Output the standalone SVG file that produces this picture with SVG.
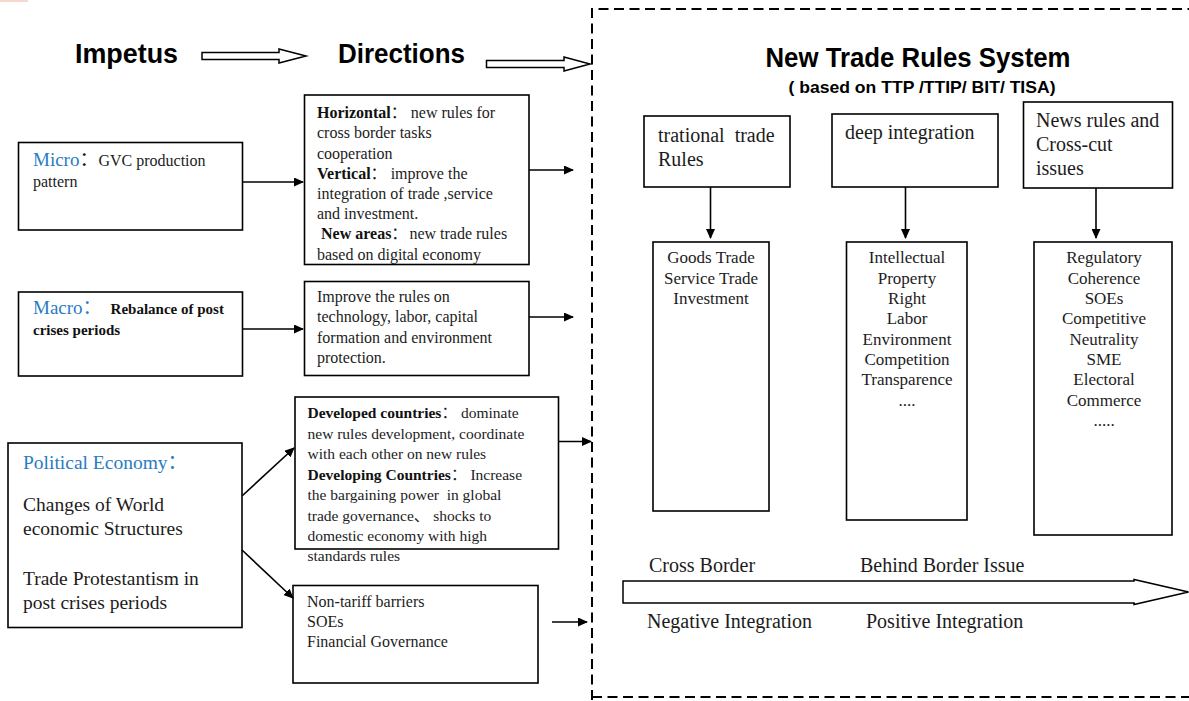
<svg xmlns="http://www.w3.org/2000/svg" width="1189" height="701" viewBox="0 0 1189 701">
  <style>
    .box { fill: #ffffff; stroke: #000000; stroke-width: 1.6; }
    .link { fill: none; stroke: #000000; stroke-width: 1.6; }
    .hollow { fill: #ffffff; stroke: #000000; stroke-width: 1.5; stroke-linejoin: miter; }
    .frame { fill: none; stroke: #000000; stroke-width: 2; stroke-dasharray: 10 5.5; }
    .head { font-family: "Liberation Sans", Arial, sans-serif; font-weight: bold; fill: #000000; }
    .txt { font-family: "Liberation Serif", "Noto Sans CJK SC", serif; fill: #1c1c1c; }
    .f15 { font-size: 15.5px; }
    .f16 { font-size: 16px; }
    .f17 { font-size: 17px; }
    .f19 { font-size: 19.5px; }
    .f20 { font-size: 20px; }
    .b { font-weight: bold; fill: #111111; }
    .blue { fill: #2a7bc2; }
    .mid { text-anchor: middle; }
  </style>
  <defs>
    <marker id="arrow" markerUnits="userSpaceOnUse" markerWidth="10" markerHeight="9" refX="9" refY="4.5" orient="auto">
      <path d="M0,0 L10,4.5 L0,9 Z" fill="#000000"/>
    </marker>
  </defs>

  <rect x="0" y="0" width="28" height="2" fill="#f6d9cc"/>

  <!-- column headings -->
  <g id="heading-impetus">
    <text class="head" x="75" y="63" font-size="27" textLength="103" lengthAdjust="spacingAndGlyphs">Impetus</text>
  </g>
  <g id="heading-directions">
    <text class="head" x="338" y="63" font-size="27" textLength="127" lengthAdjust="spacingAndGlyphs">Directions</text>
  </g>

  <!-- right-hand frame -->
  <g id="frame">
    <path class="frame" d="M592,700 L592,9 L1195,9"/>
    <path class="frame" d="M592,697 L1195,697" stroke="#333333"/>
  </g>

  <g id="title">
    <text class="head mid" x="918" y="67" font-size="27" textLength="305" lengthAdjust="spacingAndGlyphs">New Trade Rules System</text>
    <text class="head mid" x="922" y="93" font-size="17" textLength="267" lengthAdjust="spacingAndGlyphs">( based on TTP /TTIP/ BIT/ TISA)</text>
  </g>

  <!-- impetus nodes -->
  <g id="node-micro">
    <rect class="box" x="18.5" y="142.5" width="224" height="87.5"/>
    <text class="txt f16" x="33" y="166"><tspan class="blue" font-size="19">Micro</tspan><tspan font-size="19">：</tspan><tspan>GVC production</tspan></text>
    <text class="txt f16" x="33" y="187">pattern</text>
  </g>
  <g id="node-macro">
    <rect class="box" x="18.5" y="292" width="224" height="84"/>
    <text class="txt f16" x="33" y="314"><tspan class="blue" font-size="19">Macro：</tspan><tspan class="b" dx="9" font-size="15">Rebalance of post</tspan></text>
    <text class="txt b" x="33" y="335" style="font-size:15px">crises periods</text>
  </g>
  <g id="node-political">
    <rect class="box" x="8" y="443" width="234" height="184.5"/>
    <text class="txt f19 blue" x="23" y="469">Political Economy：</text>
    <text class="txt f19" x="23" y="511">Changes of World</text>
    <text class="txt f19" x="23" y="535">economic Structures</text>
    <text class="txt f19" x="23" y="585">Trade Protestantism in</text>
    <text class="txt f19" x="23" y="609">post crises periods</text>
  </g>

  <!-- direction nodes -->
  <g id="node-horizontal">
    <rect class="box" x="304.5" y="95" width="224.5" height="169.5"/>
    <text class="txt f16" x="317" y="118"><tspan class="b">Horizontal</tspan>：<tspan dx="4">new rules for</tspan></text>
    <text class="txt f16" x="317" y="138">cross border tasks</text>
    <text class="txt f16" x="317" y="158.5">cooperation</text>
    <text class="txt f16" x="317" y="178.5"><tspan class="b">Vertical</tspan>：<tspan dx="4">improve the</tspan></text>
    <text class="txt f16" x="317" y="199">integration of trade ,service</text>
    <text class="txt f16" x="317" y="219">and investment.</text>
    <text class="txt f16" x="321" y="239"><tspan class="b">New areas</tspan>：<tspan dx="2">new trade rules</tspan></text>
    <text class="txt f16" x="317" y="259.5">based on digital economy</text>
  </g>
  <g id="node-improve">
    <rect class="box" x="304.5" y="281.5" width="224.5" height="94"/>
    <text class="txt f16" x="317" y="302">Improve the rules on</text>
    <text class="txt f16" x="317" y="322">technology, labor, capital</text>
    <text class="txt f16" x="317" y="342.5">formation and environment</text>
    <text class="txt f16" x="317" y="362.5">protection.</text>
  </g>
  <g id="node-developed">
    <rect class="box" x="295" y="397" width="263.5" height="152"/>
    <text class="txt f15" x="307.5" y="418"><tspan class="b">Developed countries</tspan>：<tspan dx="4">dominate</tspan></text>
    <text class="txt f15" x="307.5" y="438.5">new rules development, coordinate</text>
    <text class="txt f15" x="307.5" y="459">with each other on new rules</text>
    <text class="txt f15" x="307.5" y="479.5"><tspan class="b">Developing Countries</tspan>：<tspan dx="4">Increase</tspan></text>
    <text class="txt f15" x="307.5" y="500" xml:space="preserve">the bargaining power  in global</text>
    <text class="txt f15" x="307.5" y="520.5">trade governance、 shocks to</text>
    <text class="txt f15" x="307.5" y="541">domestic economy with high</text>
    <text class="txt f15" x="307.5" y="561">standards rules</text>
  </g>
  <g id="node-nontariff">
    <rect class="box" x="293" y="585.5" width="245" height="97.5"/>
    <text class="txt f16" x="307" y="607">Non-tariff barriers</text>
    <text class="txt f16" x="307" y="627">SOEs</text>
    <text class="txt f16" x="307" y="647">Financial Governance</text>
  </g>

  <!-- rule-system categories -->
  <g id="node-traditional">
    <rect class="box" x="644" y="116" width="146" height="71"/>
    <text class="txt f20" x="658" y="142" xml:space="preserve">trational  trade</text>
    <text class="txt f20" x="658" y="166">Rules</text>
  </g>
  <g id="node-deep">
    <rect class="box" x="832" y="114" width="166" height="73"/>
    <text class="txt f20" x="845" y="139">deep integration</text>
  </g>
  <g id="node-newrules">
    <rect class="box" x="1023.5" y="102" width="149" height="86"/>
    <text class="txt f20" x="1036" y="127">News rules and</text>
    <text class="txt f20" x="1036" y="151">Cross-cut</text>
    <text class="txt f20" x="1036" y="175">issues</text>
  </g>

  <g id="node-goods">
    <rect class="box" x="653" y="242" width="116" height="269"/>
    <text class="txt f17 mid" x="711" y="263">Goods Trade</text>
    <text class="txt f17 mid" x="711" y="283.5">Service Trade</text>
    <text class="txt f17 mid" x="711" y="304">Investment</text>
  </g>
  <g id="node-ip">
    <rect class="box" x="846.5" y="242" width="120.5" height="278"/>
    <text class="txt f17 mid" x="907" y="263">Intellectual</text>
    <text class="txt f17 mid" x="907" y="283.5">Property</text>
    <text class="txt f17 mid" x="907" y="304">Right</text>
    <text class="txt f17 mid" x="907" y="324">Labor</text>
    <text class="txt f17 mid" x="907" y="344.5">Environment</text>
    <text class="txt f17 mid" x="907" y="365">Competition</text>
    <text class="txt f17 mid" x="907" y="385">Transparence</text>
    <text class="txt f17 mid" x="907" y="405.5">....</text>
  </g>
  <g id="node-regulatory">
    <rect class="box" x="1034" y="242" width="138" height="293"/>
    <text class="txt f17 mid" x="1104" y="263">Regulatory</text>
    <text class="txt f17 mid" x="1104" y="283.5">Coherence</text>
    <text class="txt f17 mid" x="1104" y="304">SOEs</text>
    <text class="txt f17 mid" x="1104" y="324">Competitive</text>
    <text class="txt f17 mid" x="1104" y="344.5">Neutrality</text>
    <text class="txt f17 mid" x="1104" y="365">SME</text>
    <text class="txt f17 mid" x="1104" y="385">Electoral</text>
    <text class="txt f17 mid" x="1104" y="405.5">Commerce</text>
    <text class="txt f17 mid" x="1104" y="426">.....</text>
  </g>

  <!-- integration scale -->
  <g id="integration-scale">
    <text class="txt f20" x="649" y="572">Cross Border</text>
    <text class="txt f20" x="860" y="572">Behind Border Issue</text>
    <polygon class="hollow" points="623,581 1134,581 1134,579.5 1188.5,592 1134,604.5 1134,603 623,603"/>
    <text class="txt f20" x="647" y="628">Negative Integration</text>
    <text class="txt f20" x="866" y="628">Positive Integration</text>
  </g>

  <!-- connectors -->
  <g id="connectors">
    <polygon class="hollow" points="202,52.5 279,52.5 279,49 306,56 279,63 279,59.5 202,59.5"/>
    <polygon class="hollow" points="486.5,60.5 564,60.5 564,57 590,64 564,71 564,67.5 486.5,67.5"/>
    <line class="link" x1="242.5" y1="182" x2="303" y2="182" marker-end="url(#arrow)"/>
    <line class="link" x1="529" y1="170" x2="573" y2="170" marker-end="url(#arrow)"/>
    <line class="link" x1="242.5" y1="329" x2="303" y2="329" marker-end="url(#arrow)"/>
    <line class="link" x1="529" y1="317" x2="573" y2="317" marker-end="url(#arrow)"/>
    <line class="link" x1="242" y1="496" x2="294" y2="448" marker-end="url(#arrow)"/>
    <line class="link" x1="242" y1="550" x2="293" y2="598" marker-end="url(#arrow)"/>
    <line class="link" x1="558.5" y1="441.5" x2="591" y2="441.5" marker-end="url(#arrow)"/>
    <line class="link" x1="552" y1="622" x2="587" y2="622" marker-end="url(#arrow)"/>
    <line class="link" x1="710.5" y1="187" x2="710.5" y2="238" marker-end="url(#arrow)"/>
    <line class="link" x1="905.5" y1="187" x2="905.5" y2="238" marker-end="url(#arrow)"/>
    <line class="link" x1="1096" y1="188" x2="1096" y2="238" marker-end="url(#arrow)"/>
  </g>
</svg>
